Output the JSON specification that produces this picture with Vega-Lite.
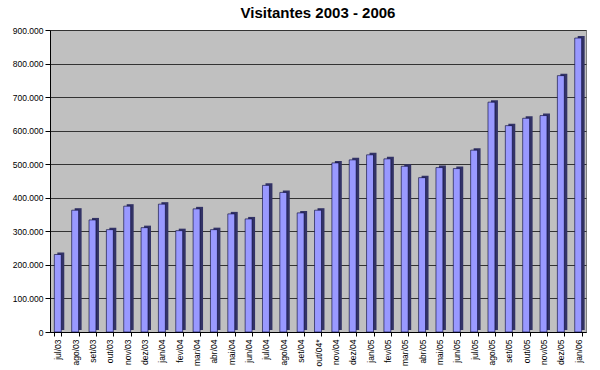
{
  "$schema": "https://vega.github.io/schema/vega-lite/v6.json",
  "autosize": {"type": "fit", "contains": "padding"},
  "width": 600,
  "height": 370,
  "padding": {"left": 12, "right": 14, "top": 6, "bottom": 4},
  "background": "white",
  "config": {
    "locale": {"number": {"decimal": ",", "thousands": ".", "grouping": [3], "currency": ["R$", ""]}},
    "font": "Liberation Sans",
    "view": {"fill": "#C0C0C0", "stroke": "#808080", "strokeWidth": 1}
  },
  "title": {"text": "Visitantes 2003 - 2006", "fontSize": 15, "font": "Liberation Sans", "fontWeight": "bold", "color": "#000000", "offset": 5},
  "data": {"values": [
    {"mes": "jul/03", "v": 231000},
    {"mes": "ago/03", "v": 363000},
    {"mes": "set/03", "v": 334000},
    {"mes": "out/03", "v": 305000},
    {"mes": "nov/03", "v": 375000},
    {"mes": "dez/03", "v": 311000},
    {"mes": "jan/04", "v": 381000},
    {"mes": "fev/04", "v": 302000},
    {"mes": "mar/04", "v": 367000},
    {"mes": "abr/04", "v": 305000},
    {"mes": "mai/04", "v": 352000},
    {"mes": "jun/04", "v": 337000},
    {"mes": "jul/04", "v": 437000},
    {"mes": "ago/04", "v": 416000},
    {"mes": "set/04", "v": 355000},
    {"mes": "out/04*", "v": 363000},
    {"mes": "nov/04", "v": 504000},
    {"mes": "dez/04", "v": 513000},
    {"mes": "jan/05", "v": 528000},
    {"mes": "fev/05", "v": 516000},
    {"mes": "mar/05", "v": 494000},
    {"mes": "abr/05", "v": 460000},
    {"mes": "mai/05", "v": 490000},
    {"mes": "jun/05", "v": 487000},
    {"mes": "jul/05", "v": 542000},
    {"mes": "ago/05", "v": 685000},
    {"mes": "set/05", "v": 615000},
    {"mes": "out/05", "v": 637000},
    {"mes": "nov/05", "v": 645000},
    {"mes": "dez/05", "v": 764000},
    {"mes": "jan/06", "v": 876000}
  ]},
  "encoding": {
    "x": {
      "field": "mes", "type": "nominal", "sort": null, "title": null,
      "scale": {"paddingInner": 0.6, "paddingOuter": 0.25},
      "axis": {"labelAngle": -90, "labelFontSize": 8.5, "labelColor": "#000000", "tickColor": "#000000", "domainColor": "#000000", "tickSize": 4, "labelPadding": 3, "tickBand": "extent"}
    },
    "y": {
      "field": "v", "type": "quantitative", "title": null,
      "scale": {"domain": [0, 900000]},
      "axis": {"values": [0, 100000, 200000, 300000, 400000, 500000, 600000, 700000, 800000, 900000], "format": ",d", "labelFontSize": 8.5, "labelColor": "#000000", "gridColor": "#333333", "gridOpacity": 1, "gridWidth": 1, "tickColor": "#000000", "domainColor": "#000000", "tickSize": 5}
    }
  },
  "layer": [
    {"mark": {"type": "bar", "color": "#333366", "xOffset": 3, "yOffset": -2}},
    {"mark": {"type": "bar", "color": "#9999FF", "stroke": "#000033", "strokeWidth": 0.6}}
  ]
}
